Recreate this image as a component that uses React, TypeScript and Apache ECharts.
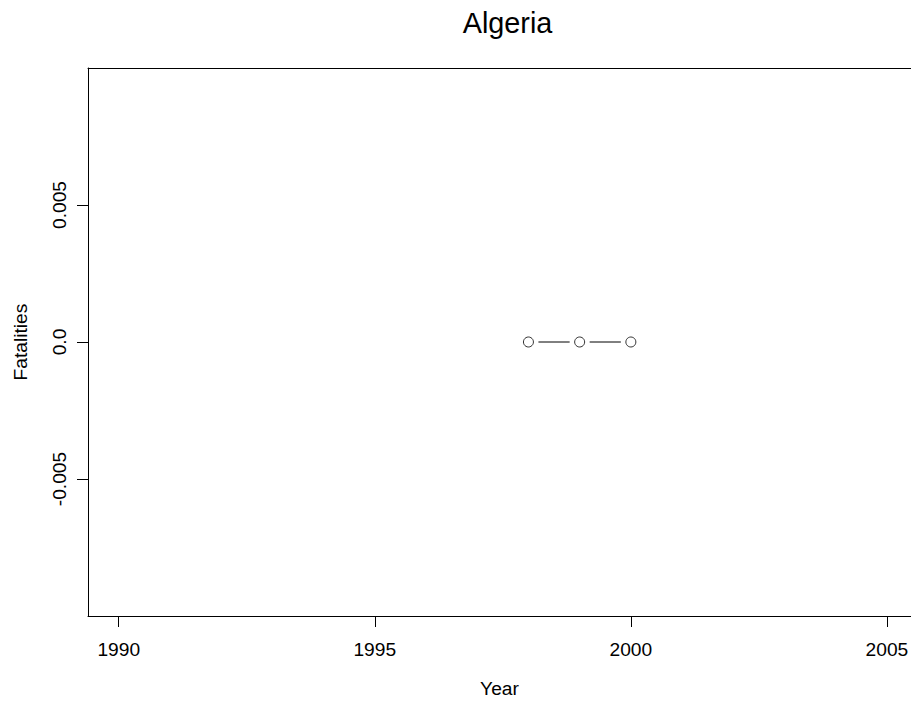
import React, { useEffect, useRef } from "react";
import * as echarts from "echarts";

const years = [1998, 1999, 2000];
const fatalities = [0, 0, 0];
const xTicks = [1990, 1995, 2000, 2005];
const yTicks = [-0.005, 0, 0.005];
const yTickLabels: Record<string, string> = { "-0.005": "-0.005", "0": "0.0", "0.005": "0.005" };

export default function App() {
  const ref = useRef<HTMLDivElement>(null);
  useEffect(() => {
    document.body.style.margin = "0";
    const chart = echarts.init(ref.current!, null, { renderer: "svg" });
    const segs = years.slice(0, -1).map((y, i) => [y, fatalities[i], years[i + 1], fatalities[i + 1]]);
    const font = "Liberation Sans, Arial, Helvetica, sans-serif";
    chart.setOption({
      animation: false,
      backgroundColor: "#ffffff",
      title: {
        text: "Algeria",
        left: 502.5,
        top: 3,
        textAlign: "center",
        textStyle: { fontFamily: font, fontSize: 28.8, fontWeight: "normal", color: "#000" },
      },
      grid: { left: 88, top: 68, width: 823, height: 548, show: false, outerBoundsMode: "none", containLabel: false },
      xAxis: [
        {
          type: "value",
          min: 1989.4,
          max: 2005.47,
          position: "bottom",
          name: "Year",
          nameLocation: "middle",
          nameGap: 63,
          nameTextStyle: { fontFamily: font, fontSize: 19.2, color: "#000" },
          axisLine: { show: true, onZero: false, lineStyle: { color: "#000", width: 1 } },
          splitLine: { show: false },
          axisTick: { show: true, inside: false, length: 11, customValues: xTicks, lineStyle: { color: "#000" } },
          axisLabel: { customValues: xTicks, margin: 24, fontFamily: font, fontSize: 19.2, color: "#000", formatter: (v: number) => String(v) },
        },
        {
          type: "value",
          min: 1989.4,
          max: 2005.47,
          position: "top",
          axisLine: { show: true, onZero: false, lineStyle: { color: "#000", width: 1 } },
          splitLine: { show: false },
          axisTick: { show: false },
          axisLabel: { show: false },
        },
      ],
      yAxis: {
        type: "value",
        min: -0.01,
        max: 0.01,
        name: "Fatalities",
        nameLocation: "middle",
        nameGap: 58,
        nameTextStyle: { fontFamily: font, fontSize: 19.2, color: "#000" },
        axisLine: { show: true, onZero: false, lineStyle: { color: "#000", width: 1 } },
        splitLine: { show: false },
        axisTick: { show: true, inside: false, length: 11, customValues: yTicks, lineStyle: { color: "#000" } },
        axisLabel: {
          customValues: yTicks,
          rotate: 90,
          margin: 19,
          fontFamily: font,
          fontSize: 19.2,
          color: "#000",
          formatter: (v: number) => yTickLabels[String(v)] ?? String(v),
        },
      },
      series: [
        {
          type: "custom",
          data: segs,
          renderItem: (params: any, api: any) => {
            const p1 = api.coord([api.value(0), api.value(1)]);
            const p2 = api.coord([api.value(2), api.value(3)]);
            const dx = p2[0] - p1[0];
            const dy = p2[1] - p1[1];
            const len = Math.sqrt(dx * dx + dy * dy);
            const gap = 10;
            const ux = dx / len;
            const uy = dy / len;
            return {
              type: "line",
              shape: { x1: p1[0] + ux * gap, y1: p1[1] + uy * gap, x2: p2[0] - ux * gap, y2: p2[1] - uy * gap },
              style: { stroke: "#000", lineWidth: 1 },
            };
          },
        },
        {
          type: "scatter",
          data: years.map((y, i) => [y, fatalities[i]]),
          symbol: "circle",
          symbolSize: 10,
          itemStyle: { color: "#fff", borderColor: "#000", borderWidth: 1 },
        },
      ],
    });
    return () => chart.dispose();
  }, []);
  return <div ref={ref} style={{ width: 911, height: 702 }} />;
}
